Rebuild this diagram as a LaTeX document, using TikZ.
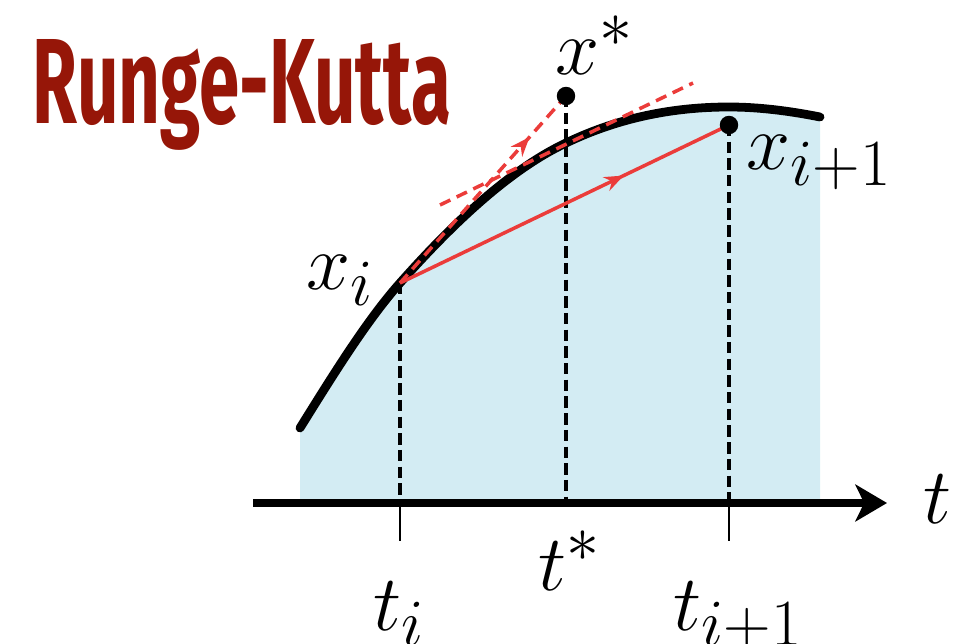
\documentclass[tikz,border=0pt]{standalone}
\usepackage{graphicx}
\usepackage{fontspec}
\newfontfamily\titlefont{Fira Sans}
\usetikzlibrary{arrows.meta, decorations.markings}
\definecolor{titlered}{RGB}{150,22,8}
\definecolor{areablue}{RGB}{211,236,243}
\definecolor{stepred}{RGB}{235,60,58}

\begin{document}
\begin{tikzpicture}[
  x=0.02cm, y=-0.02cm,
  font=\fontsize{24.88}{28}\selectfont,
  lbl/.style={inner sep=0pt, anchor=base west, scale=1.81},
  headline/.style={inner sep=0pt, anchor=base west, text=titlered, font=\titlefont\bfseries\fontsize{69}{70}\selectfont},
  solution/.style={line width=5pt, line cap=round},
  guide/.style={line width=2pt, dash pattern=on 6.5pt off 3pt},
  tickmark/.style={line width=1.4pt},
  dot/.style={circle, fill=black, inner sep=0pt, minimum size=10.5pt},
  slope/.style={draw=stepred, line width=2pt},
  slopedash/.style={slope, dash pattern=on 6.5pt off 4pt},
  midarrow/.style={postaction={decorate}, decoration={markings, mark=at position #1 with {\arrow[stepred]{Stealth[length=11pt, width=8.5pt]}}}},
  axis/.style={line width=5pt, -{Stealth[length=18pt, width=21pt, inset=5pt]}}
]
\useasboundingbox (0,0) rectangle (979,644);

% points on the curve and on the axis
\coordinate (xi) at (400,283);
\coordinate (xs) at (566,96);
\coordinate (xn) at (729,125);
\coordinate (ma) at (440,205);
\coordinate (mb) at (693,83);
\coordinate (ti) at (400,503);
\coordinate (ts) at (566,503);
\coordinate (tn) at (729,503);
\coordinate (tstart) at (253,503);
\coordinate (tend) at (887,503);

% area under the solution
\fill[areablue] (300,503) -- (300,428) .. controls (333,375) and (367,320) .. (400,283)
  .. controls (455,221) and (511,169) .. (566,143)
  .. controls (620,117) and (675,107) .. (729,107)
  .. controls (759,107) and (790,111) .. (820,117) -- (820,503) -- cycle;

\draw[guide] (xi) -- (ti);
\draw[guide] (xs) -- (ts);
\draw[guide] (xn) -- (tn);

% exact solution
\draw[solution] (300,428) .. controls (333,375) and (367,320) .. (400,283)
  .. controls (455,221) and (511,169) .. (566,143)
  .. controls (620,117) and (675,107) .. (729,107)
  .. controls (759,107) and (790,111) .. (820,117);

% midpoint step
\draw[slopedash, midarrow=0.78] (xi) -- (xs);
\draw[slopedash] (ma) -- (mb);
\draw[slope, midarrow=0.68] (xi) -- (xn);

\node[dot] (xsdot) at (xs) {};
\node[dot] (xndot) at (xn) {};

\draw[axis] (tstart) -- (tend);
\draw[tickmark] (ti) -- ++(0,38);
\draw[tickmark] (tn) -- ++(0,38);

\node[headline] (title) at (32,124) {\scalebox{0.6}[1]{Runge-Kutta}};
\node[lbl] (lxs) at (555,75) {$x^*$};
\node[lbl] (lxi) at (306,290) {$x_i$};
\node[lbl] (lxn) at (746,170) {$x_{i+1}$};
\node[lbl] (lt) at (923,523) {$t$};
\node[lbl] (lts) at (538,590) {$t^*$};
\node[lbl] (lti) at (373,630) {$t_i$};
\node[lbl] (ltn) at (673,630) {$t_{i+1}$};
\end{tikzpicture}
\end{document}
